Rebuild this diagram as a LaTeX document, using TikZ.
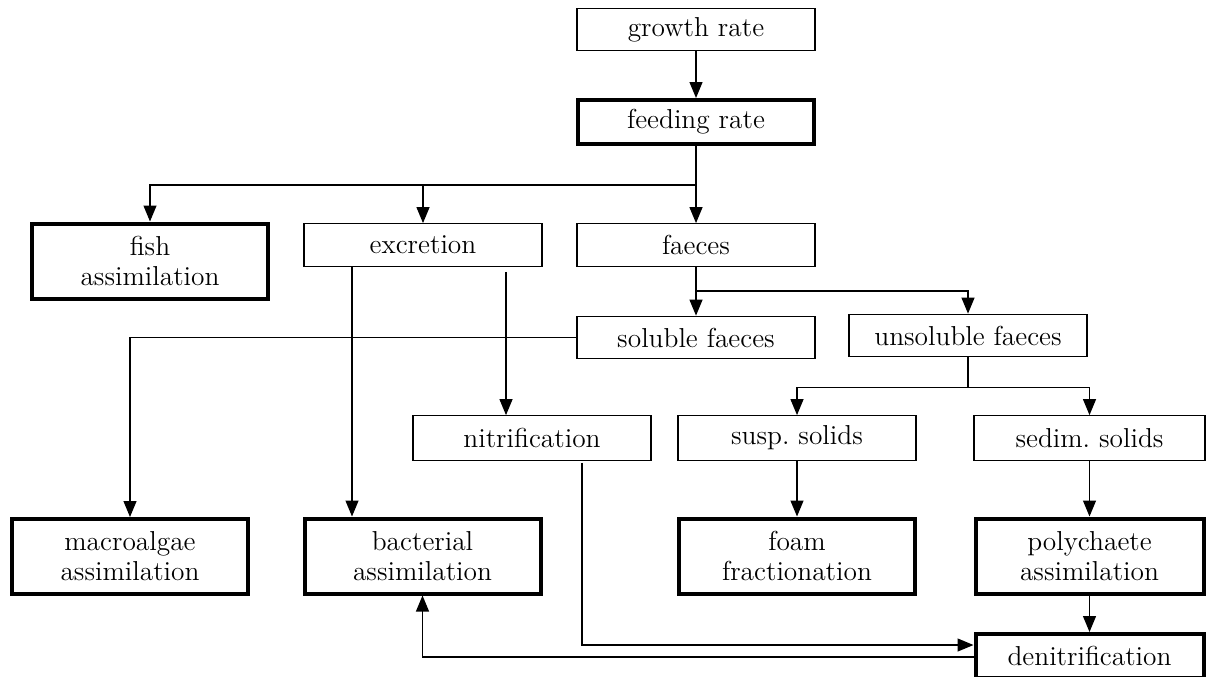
\documentclass[tikz,border=0pt]{standalone}
\usepackage{tikz}
\usetikzlibrary{positioning,calc,arrows.meta}

\tikzset{
  stage/.style={draw, line width=0.6pt, minimum width=119pt, minimum height=21.3pt,
    inner sep=0pt, align=center, font=\fontsize{13.7}{15}\selectfont},
  pool/.style={stage, line width=2pt, minimum width=118pt, minimum height=22pt},
  tall/.style={minimum height=37.5pt},
  flow/.style={->, line width=0.6pt},
  >={Triangle[length=8pt,width=6.5pt]}
}

\begin{document}
\begin{tikzpicture}[x=0.5pt, y=-0.5pt]
\useasboundingbox (0,0) rectangle (1208,676);

\node[stage] (growth) at (696,29.5) {growth rate};
\node[pool] (feeding) at (696,122) {feeding rate};
\node[pool, tall] (fish) at (150,261) {fish\\assimilation};
\node[stage] (excretion) at (423,245) {excretion};
\node[stage] (faeces) at (696,245) {faeces};
\node[stage] (soluble) at (696,337.5) {soluble faeces};
\node[stage] (unsoluble) at (968,335.5) {unsoluble faeces};
\node[stage, minimum height=22.3pt] (nitrification) at (532,438) {nitrification};
\node[stage, minimum height=22.3pt] (susp) at (797,438) {susp.\ solids};
\node[stage, minimum height=22.3pt, minimum width=115.5pt] (sedim) at (1089.5,438) {sedim.\ solids};
\node[pool, tall] (macro) at (130,556.5) {macroalgae\\assimilation};
\node[pool, tall] (bacterial) at (422.5,556) {bacterial\\assimilation};
\node[pool, tall] (foam) at (797,556) {foam\\fractionation};
\node[pool, tall, minimum width=114pt] (poly) at (1089.5,556) {polychaete\\assimilation};
\node[pool, minimum width=114pt] (denit) at (1089.5,656) {denitrification};

\draw[flow] (growth) -- (feeding);
\draw[flow] (feeding.south) -- ++(0,39) -| (fish.north);
\draw[flow] (feeding.south) -- ++(0,39) -| (excretion.north);
\draw[flow] (feeding) -- (faeces);
\draw[flow] (faeces) -- (soluble);
\draw[flow] (faeces.south) -- ++(0,24) -| (unsoluble.north);
\draw[flow] (soluble.west) -| (macro.north);
\draw[flow] ($(excretion.south)+(-71,0)$) -- ($(bacterial.north)+(-70.5,0)$);
\draw[flow] ($(excretion.south)+(83,5)$) -- ($(nitrification.north)+(-26,0)$);
\draw[flow] (unsoluble.south) -- ++(0,30) -| (susp.north);
\draw[flow] (unsoluble.south) -- ++(0,30) -| (sedim.north);
\draw[flow] (susp) -- (foam);
\draw[flow] (sedim) -- (poly);
\draw[flow] (poly) -- (denit);
\draw[flow] ($(nitrification.south)+(50,2)$) |- ($(denit.west)+(0,-11)$);
\draw[flow] ($(denit.west)+(0,1)$) -| (bacterial.south);
\end{tikzpicture}
\end{document}
